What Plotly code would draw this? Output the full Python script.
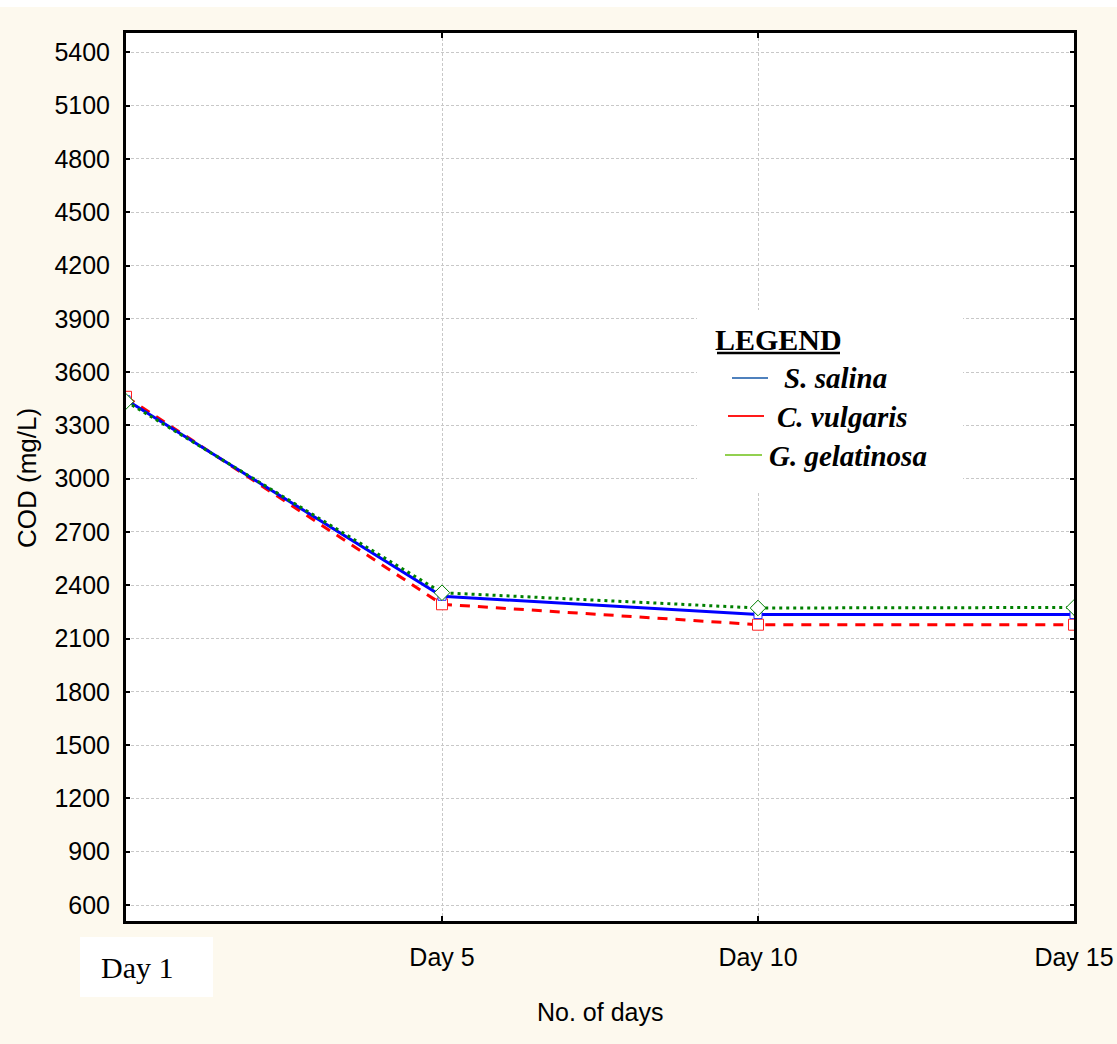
import plotly.graph_objects as go

# ---- data ----
days = ["Day 1", "Day 5", "Day 10", "Day 15"]
s_salina = [3444, 2338, 2235, 2235]
c_vulgaris = [3461, 2293, 2178, 2178]
g_gelatinosa = [3435, 2358, 2272, 2275]
y_ticks = [600, 900, 1200, 1500, 1800, 2100, 2400, 2700, 3000, 3300,
           3600, 3900, 4200, 4500, 4800, 5100, 5400]
series_names = ["S. salina", "C. vulgaris", "G. gelatinosa"]

W, H = 1117, 1044
L, R, T, B = 126, 1074, 33, 921


def px(x):
    return (x - L) / (R - L)


def py(y):
    return (B - y) / (B - T)


SANS = "Liberation Sans, Arial, sans-serif"
SERIF = "Liberation Serif, Times New Roman, serif"

fig = go.Figure()

fig.add_trace(go.Scatter(
    x=days, y=c_vulgaris, name=series_names[1], mode="lines+markers",
    line=dict(color="#FF0000", width=3, dash="10px,8px"),
    marker=dict(symbol="square", size=11, color="white",
                line=dict(color="#FF2020", width=1)),
))
fig.add_trace(go.Scatter(
    x=days, y=s_salina, name=series_names[0], mode="lines+markers",
    line=dict(color="#0000FF", width=3),
    marker=dict(symbol="square", size=8, color="white",
                line=dict(color="#2020FF", width=1)),
))
fig.add_trace(go.Scatter(
    x=days, y=g_gelatinosa, name=series_names[2], mode="lines+markers",
    line=dict(color="#008000", width=3, dash="3px,4px"),
    marker=dict(symbol="diamond", size=12, color="white",
                line=dict(color="#008000", width=1)),
))

grid = dict(showgrid=True, gridcolor="#C8C8C8", gridwidth=1, griddash="3px,2px")

fig.update_xaxes(
    type="category", range=[0, 3], automargin=False,
    tickmode="array", tickvals=days, ticktext=[""] + days[1:],
    ticks="inside", ticklen=5, tickwidth=2, tickcolor="black",
    showline=True, linecolor="black", linewidth=3, mirror="ticks",
    tickfont=dict(family=SANS, size=25, color="black"),
    ticklabelstandoff=12,
    zeroline=False, **grid,
)
fig.update_yaxes(
    range=[510, 5509], automargin=False,
    tickmode="array", tickvals=y_ticks, ticktext=[str(v) for v in y_ticks],
    ticks="inside", ticklen=4, tickwidth=2, tickcolor="black",
    showline=True, linecolor="black", linewidth=3, mirror="ticks",
    tickfont=dict(family=SANS, size=25, color="black"),
    ticklabelstandoff=8,
    zeroline=False, **grid,
)

shapes = []
annotations = []

# white strip at the very top
shapes.append(dict(type="rect", xref="paper", yref="paper",
                   x0=px(-5), x1=px(W + 5), y0=py(7), y1=py(-5),
                   fillcolor="white", line=dict(width=0), layer="above"))

# legend box
shapes.append(dict(type="rect", xref="paper", yref="paper",
                   x0=px(697), x1=px(963), y0=py(493), y1=py(310),
                   fillcolor="white", line=dict(width=0), layer="above"))
# underline for LEGEND
shapes.append(dict(type="line", xref="paper", yref="paper",
                   x0=px(717), x1=px(840), y0=py(353), y1=py(353),
                   line=dict(color="black", width=2.5), layer="above"))
annotations.append(dict(xref="paper", yref="paper", x=px(778.5), y=py(339),
                        text="<b>LEGEND</b>", showarrow=False,
                        xanchor="center", yanchor="middle",
                        font=dict(family=SERIF, size=30, color="black")))

leg_cols = ["#4F81BD", "#FF1A1A", "#92D050"]
leg_line = [(732, 768, 378), (728, 764, 416), (725, 762, 455)]
leg_text_x = [782, 775, 767]
leg_text_y = [378, 417, 456]
for name, col, (lx0, lx1, ly), tx, ty in zip(series_names, leg_cols, leg_line,
                                             leg_text_x, leg_text_y):
    shapes.append(dict(type="line", xref="paper", yref="paper",
                       x0=px(lx0), x1=px(lx1), y0=py(ly), y1=py(ly),
                       line=dict(color=col, width=2), layer="above"))
    annotations.append(dict(xref="paper", yref="paper", x=px(tx), y=py(ty),
                            text="<b><i>" + name + "</i></b>", showarrow=False,
                            xanchor="left", yanchor="middle",
                            font=dict(family=SERIF, size=29, color="black")))

# white box with "Day 1"
shapes.append(dict(type="rect", xref="paper", yref="paper",
                   x0=px(80), x1=px(213), y0=py(997), y1=py(937),
                   fillcolor="white", line=dict(width=0), layer="above"))
annotations.append(dict(xref="paper", yref="paper", x=px(137), y=py(967),
                        text=days[0], showarrow=False,
                        xanchor="center", yanchor="middle",
                        font=dict(family=SERIF, size=30, color="black")))

# axis titles
annotations.append(dict(xref="paper", yref="paper", x=px(600), y=py(1012),
                        text="No. of days", showarrow=False,
                        xanchor="center", yanchor="middle",
                        font=dict(family=SANS, size=25, color="black")))
annotations.append(dict(xref="paper", yref="paper", x=px(27), y=py(478),
                        text="COD (mg/L)", showarrow=False, textangle=-90,
                        xanchor="center", yanchor="middle",
                        font=dict(family=SANS, size=26, color="black")))

fig.update_layout(
    width=W, height=H,
    margin=dict(l=L, r=W - R, t=T, b=H - B, autoexpand=False),
    paper_bgcolor="#FDF9EE",
    plot_bgcolor="white",
    showlegend=False,
    shapes=shapes,
    annotations=annotations,
)

fig.write_html("out.html")
